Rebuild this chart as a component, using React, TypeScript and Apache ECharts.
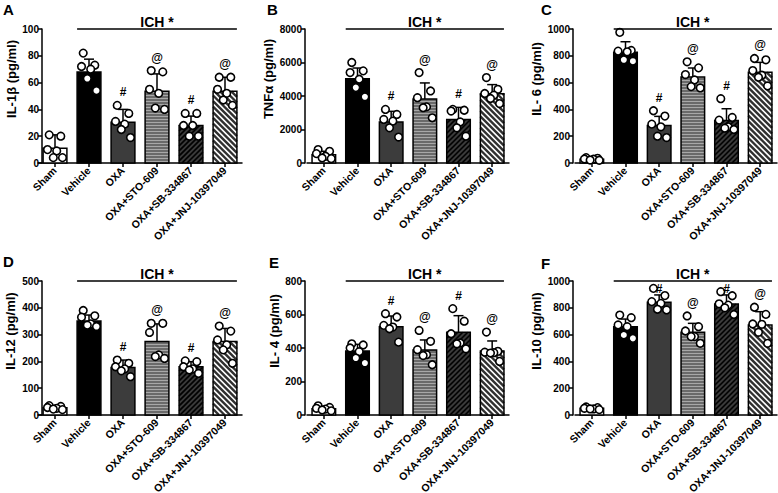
import React, { useEffect, useRef } from "react";
import * as echarts from "echarts";

const categories = ["Sham", "Vehicle", "OXA", "OXA+STO-609", "OXA+SB-334867", "OXA+JNJ-10397049"];
const panelLetters = ["A", "B", "C", "D", "E", "F"];
const yTitles = ["IL-1β (pg/ml)", "TNFα (pg/ml)", "IL- 6 (pg/ml)", "IL-12 (pg/ml)", "IL- 4 (pg/ml)", "IL-10 (pg/ml)"];
const yMaxes = [100, 8000, 1000, 500, 800, 1000];
const yIntervals = [20, 2000, 200, 100, 200, 200];
const sigMarks = ["", "", "#", "@", "#", "@"];
const ichLabel = "ICH *";
const ichFrom = 1;
const ichTo = 5;

// Panel A: IL-1β
const meansA = [11, 68, 30.5, 53.5, 28, 53.5];
const sdsA = [10, 9.5, 9.5, 13, 7, 10.5];
const pointsA = [
  [21, 20, 10, 9, 4, 4],
  [82, 73, 72, 70, 63, 54],
  [43, 37, 31, 29, 25, 19],
  [69, 68, 55, 52, 41, 40],
  [37, 37, 28, 28, 20, 20],
  [64, 64, 55, 52, 47, 43],
];
// Panel B: TNFα
const meansB = [500, 5030, 2450, 3820, 2590, 4140];
const sdsB = [200, 640, 635, 960, 730, 540];
const pointsB = [
  [800, 700, 560, 400, 300, 260],
  [6000, 5500, 5400, 5000, 4500, 3950],
  [3200, 2900, 2600, 2500, 2100, 1550],
  [5400, 4300, 3900, 3350, 3300, 2700],
  [3200, 3150, 3100, 2450, 2100, 1600],
  [5100, 4400, 4150, 4050, 3850, 3550],
];
// Panel C: IL-6
const meansC = [28, 826, 279, 642, 318, 677];
const sdsC = [12, 79, 69, 67, 87, 74];
const pointsC = [
  [40, 35, 30, 28, 22, 20],
  [975, 840, 835, 830, 770, 760],
  [390, 350, 290, 270, 200, 190],
  [755, 710, 660, 620, 570, 560],
  [480, 340, 320, 270, 260, 250],
  [780, 770, 690, 655, 640, 575],
];
// Panel D: IL-12
const meansD = [27, 351, 177, 274, 180, 274];
const sdsD = [6, 22, 28, 66, 19, 49];
const pointsD = [
  [35, 32, 28, 25, 22, 20],
  [390, 370, 365, 340, 335, 330],
  [205, 193, 180, 172, 165, 143],
  [342, 342, 308, 224, 218, 211],
  [202, 199, 180, 172, 168, 155],
  [332, 313, 280, 262, 243, 193],
];
// Panel E: IL-4
const meansE = [38, 382, 527, 388, 494, 382];
const sdsE = [8, 40, 64, 60, 99, 60];
const pointsE = [
  [55, 45, 40, 35, 30, 25],
  [425, 418, 400, 378, 340, 310],
  [605, 585, 535, 525, 515, 435],
  [505, 440, 390, 360, 355, 300],
  [635, 560, 485, 430, 425, 395],
  [495, 380, 375, 372, 370, 320],
];
// Panel F: IL-10
const meansF = [50, 659, 841, 617, 828, 672];
const sdsF = [8, 57, 55, 67, 68, 99];
const pointsF = [
  [60, 55, 50, 45, 45, 40],
  [746, 726, 672, 659, 597, 572],
  [945, 891, 846, 833, 789, 784],
  [739, 659, 627, 585, 585, 535],
  [920, 890, 830, 820, 800, 750],
  [804, 751, 679, 677, 617, 535],
];

const panelMeans = [meansA, meansB, meansC, meansD, meansE, meansF];
const panelSds = [sdsA, sdsB, sdsC, sdsD, sdsE, sdsF];
const panelPoints = [pointsA, pointsB, pointsC, pointsD, pointsE, pointsF];

// ---- styling / layout (not data) ----
const FONT = "'Liberation Sans', Arial, Helvetica, sans-serif";
const gridLefts = [38, 307, 575];
const gridWidths = [204, 202, 202];
const axisShift = [-4, 2, 2];
const rowTops = [29, 281];
const gridHeight = 134;
const nameGaps = [24, 30, 30, 25, 24, 30];
const letterPos = [[3, 2], [267, 2], [541, 2], [3, 254], [269, 255], [541, 256]];
const jitter = [-0.17, 0.17, -0.22, 0.05, -0.05, 0.22];
const barFills = ["#ffffff", "#000000", "#3c3c3c", "#6a6a6a", "#3a3a3a", "#ffffff"];
type Stripe = { dir: string; color: string; step: number; width: number } | null;
const barStripes: Stripe[] = [
  null,
  null,
  null,
  { dir: "h", color: "#a8a8a8", step: 3, width: 1 },
  { dir: "/", color: "#000000", step: 5, width: 1.6 },
  { dir: "\\", color: "#303030", step: 5.6, width: 2.4 },
];

function stripeLines(x0: number, y0: number, x1: number, y1: number, s: Stripe) {
  const out: any[] = [];
  if (!s) return out;
  const style = { stroke: s.color, lineWidth: s.width };
  if (s.dir === "h") {
    for (let y = y1 - s.step / 2; y > y0 + 0.5; y -= s.step) {
      out.push({ type: "line", shape: { x1: x0, y1: y, x2: x1, y2: y }, style });
    }
  } else if (s.dir === "/") {
    const st = s.step;
    const cStart = Math.ceil((x0 + y0) / st) * st;
    for (let c = cStart; c < x1 + y1; c += st) {
      const xa = Math.max(x0, c - y1);
      const xb = Math.min(x1, c - y0);
      if (xb > xa) out.push({ type: "line", shape: { x1: xa, y1: c - xa, x2: xb, y2: c - xb }, style });
    }
  } else {
    const st = s.step;
    const cStart = Math.ceil((x0 - y1) / st) * st;
    for (let c = cStart; c < x1 - y0; c += st) {
      const xa = Math.max(x0, c + y0);
      const xb = Math.min(x1, c + y1);
      if (xb > xa) out.push({ type: "line", shape: { x1: xa, y1: xa - c, x2: xb, y2: xb - c }, style });
    }
  }
  return out;
}

function buildOption() {
  const grids: any[] = [];
  const xAxes: any[] = [];
  const yAxes: any[] = [];
  const series: any[] = [];
  const graphics: any[] = [];
  const lineStyle = { color: "#000", width: 1.5 };

  for (let p = 0; p < 6; p++) {
    const col = p % 3;
    const row = Math.floor(p / 3);
    grids.push({
      left: gridLefts[col],
      top: rowTops[row],
      width: gridWidths[col],
      height: gridHeight,
      containLabel: false,
      outerBoundsMode: "none",
    });
    xAxes.push({
      type: "category",
      gridIndex: p,
      data: categories,
      axisLine: { show: true, lineStyle },
      axisTick: { show: true, alignWithLabel: true, length: 4, lineStyle },
      axisLabel: {
        rotate: 45,
        interval: 0,
        fontSize: 10.5,
        fontWeight: "bold",
        color: "#000",
        fontFamily: FONT,
        margin: 6,
      },
      splitLine: { show: false },
    });
    yAxes.push({
      type: "value",
      gridIndex: p,
      min: 0,
      max: yMaxes[p],
      interval: yIntervals[p],
      offset: axisShift[col],
      axisLine: { show: true, lineStyle },
      axisTick: { show: true, length: 4, lineStyle },
      axisLabel: {
        fontSize: 10,
        fontWeight: "bold",
        color: "#000",
        fontFamily: FONT,
        margin: 3,
        formatter: (v: number) => String(v),
      },
      splitLine: { show: false },
      name: yTitles[p],
      nameLocation: "middle",
      nameGap: nameGaps[p],
      nameTextStyle: {
        fontSize: 13,
        fontWeight: "bold",
        color: "#000",
        fontFamily: FONT,
        padding: [0, 0, 0, 34],
      },
    });

    const means = panelMeans[p];
    const sds = panelSds[p];
    const pts = panelPoints[p];

    // bars + error bars
    series.push({
      type: "custom",
      xAxisIndex: p,
      yAxisIndex: p,
      silent: true,
      data: means.map((m, i) => [i, m, sds[i]]),
      renderItem: (params: any, api: any) => {
        const ci = api.value(0);
        const v = api.value(1);
        const sd = api.value(2);
        const band = api.size([1, 0])[0];
        const w = band * 0.7;
        const top = api.coord([ci, v]);
        const base = api.coord([ci, 0]);
        const errTop = api.coord([ci, v + sd]);
        const x0 = top[0] - w / 2;
        const x1 = top[0] + w / 2;
        const y0 = top[1];
        const y1 = base[1];
        const children: any[] = [];
        children.push({
          type: "line",
          shape: { x1: top[0], y1: y0, x2: top[0], y2: errTop[1] },
          style: { stroke: "#000", lineWidth: 1.5 },
        });
        children.push({
          type: "line",
          shape: { x1: top[0] - 5, y1: errTop[1], x2: top[0] + 5, y2: errTop[1] },
          style: { stroke: "#000", lineWidth: 1.5 },
        });
        children.push({
          type: "rect",
          shape: { x: x0, y: y0, width: w, height: y1 - y0 },
          style: { fill: barFills[ci], stroke: "none" },
        });
        stripeLines(x0, y0, x1, y1, barStripes[ci]).forEach((l) => children.push(l));
        children.push({
          type: "rect",
          shape: { x: x0, y: y0, width: w, height: y1 - y0 },
          style: { fill: "none", stroke: "#000", lineWidth: 1.5 },
        });
        return { type: "group", children };
      },
      z: 2,
    });

    // individual points
    const pData: any[] = [];
    pts.forEach((arr, i) => arr.forEach((v, j) => pData.push([i, v, j])));
    series.push({
      type: "custom",
      xAxisIndex: p,
      yAxisIndex: p,
      silent: true,
      data: pData,
      renderItem: (params: any, api: any) => {
        const c = api.coord([api.value(0), api.value(1)]);
        const band = api.size([1, 0])[0];
        const j = api.value(2);
        return {
          type: "circle",
          shape: { cx: c[0] + jitter[j] * band, cy: c[1], r: 3.8 },
          style: { fill: "#fff", stroke: "#000", lineWidth: 1.6 },
        };
      },
      z: 3,
    });

    // significance marks
    const mData: any[] = [];
    sigMarks.forEach((m, i) => {
      if (m) {
        const topVal = Math.max(means[i] + sds[i], ...pts[i]);
        mData.push([i, topVal, i]);
      }
    });
    const ymax = yMaxes[p];
    series.push({
      type: "custom",
      xAxisIndex: p,
      yAxisIndex: p,
      silent: true,
      data: mData,
      renderItem: (params: any, api: any) => {
        const c = api.coord([api.value(0), api.value(1)]);
        const lineY = api.coord([0, ymax])[1];
        const idx = api.value(2);
        const y = Math.max(c[1] - 13, lineY + 8);
        return {
          type: "text",
          x: c[0],
          y,
          style: {
            text: sigMarks[idx],
            fill: "#000000",
            fontSize: 12,
            fontWeight: "bold",
            fontFamily: FONT,
            align: "center",
            verticalAlign: "middle",
          },
        };
      },
      z: 4,
    });

    // ICH bracket line
    series.push({
      type: "custom",
      xAxisIndex: p,
      yAxisIndex: p,
      silent: true,
      data: [[ichFrom, yMaxes[p], ichTo]],
      renderItem: (params: any, api: any) => {
        const band = api.size([1, 0])[0];
        const w = band * 0.7;
        const a = api.coord([api.value(0), api.value(1)]);
        const b = api.coord([api.value(2), api.value(1)]);
        const xl = a[0] - w / 2;
        const xr = b[0] + w / 2;
        return {
          type: "group",
          children: [
            {
              type: "line",
              shape: { x1: xl, y1: a[1], x2: xr, y2: a[1] },
              style: { stroke: "#000", lineWidth: 1.5 },
            },
            {
              type: "text",
              x: (xl + xr) / 2,
              y: a[1] - 7,
              style: {
                text: ichLabel,
                fill: "#000",
                fontSize: 14,
                fontWeight: "bold",
                fontFamily: FONT,
                align: "center",
                verticalAlign: "middle",
              },
            },
          ],
        };
      },
      z: 4,
    });

    graphics.push({
      type: "text",
      left: letterPos[p][0],
      top: letterPos[p][1],
      style: {
        text: panelLetters[p],
        fill: "#000",
        fontSize: 15,
        fontWeight: "bold",
        fontFamily: FONT,
      },
    });
  }

  return {
    animation: false,
    backgroundColor: "#ffffff",
    grid: grids,
    xAxis: xAxes,
    yAxis: yAxes,
    series,
    graphic: graphics,
  };
}

export default function App() {
  const ref = useRef<HTMLDivElement>(null);
  useEffect(() => {
    if (!ref.current) return;
    const chart = echarts.init(ref.current, undefined, { renderer: "svg" });
    chart.setOption(buildOption() as any);
    return () => chart.dispose();
  }, []);
  return (
    <div
      ref={ref}
      style={{ position: "fixed", left: 0, top: 0, width: 778, height: 493, background: "#fff" }}
    />
  );
}
